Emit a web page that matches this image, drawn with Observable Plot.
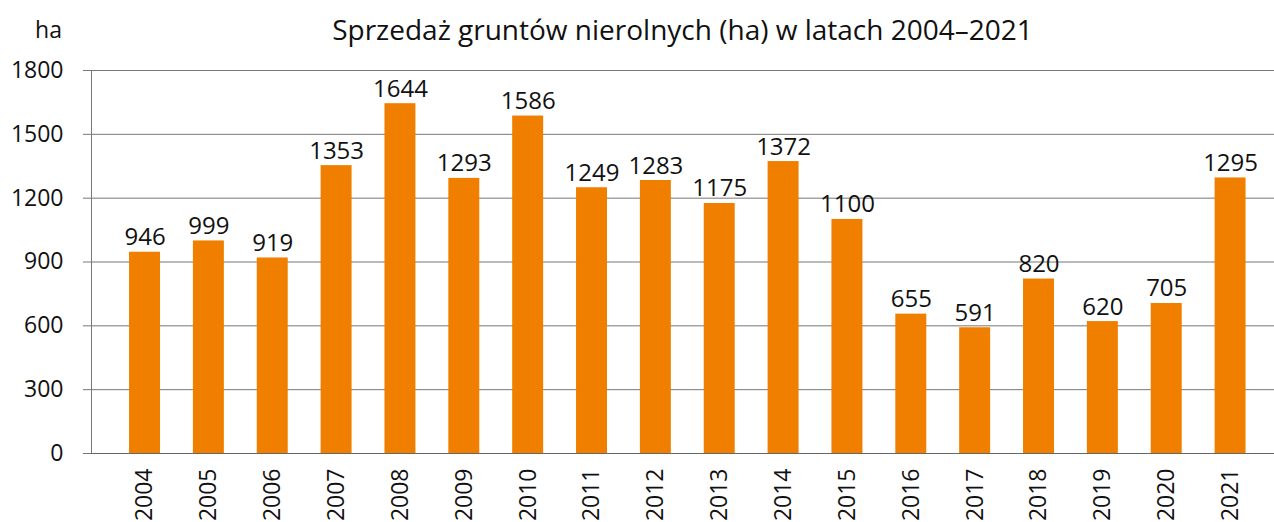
<!DOCTYPE html>
<html><head><meta charset="utf-8">
<script src="https://cdn.jsdelivr.net/npm/d3@7"></script>
<script src="https://cdn.jsdelivr.net/npm/@observablehq/plot@0.6"></script>
<style>
body{margin:0;background:#fff;font-family:"Open Sans",sans-serif;}
#wrap{position:relative;width:1274px;height:522px;overflow:hidden;}
#head{position:relative;height:40px;}
#title{position:absolute;left:91px;right:0;top:10px;text-align:center;font-size:28px;line-height:38px;color:#111;}
#unit{position:absolute;right:1212px;top:13px;font-size:23px;line-height:32px;color:#111;}
</style></head>
<body><div id="wrap"><div id="head"><div id="unit">ha</div><div id="title">Sprzedaż gruntów nierolnych (ha) w latach 2004–2021</div></div><div id="chart"></div></div>
<script>
const years = ["2004","2005","2006","2007","2008","2009","2010","2011","2012","2013","2014","2015","2016","2017","2018","2019","2020","2021"];
const values = [946,999,919,1353,1644,1293,1586,1249,1283,1175,1372,1100,655,591,820,620,705,1295];
const yTicks = [0,300,600,900,1200,1500,1800];
const data = years.map((y,i)=>({year:y,value:values[i]}));
const chart = Plot.plot({
  width:1274, height:482,
  marginTop:30, marginBottom:69, marginLeft:91, marginRight:0,
  style:{fontFamily:"Open Sans, sans-serif", fontSize:"23px", color:"#111", background:"#fff", overflow:"visible"},
  x:{domain:years, range:[112.6,1262], paddingInner:0.515, paddingOuter:0.2575, round:false, label:null},
  y:{domain:[0,1800], label:null},
  marks:[
    Plot.ruleY(yTicks,{stroke:"#777",strokeWidth:1}),
    Plot.axisY({ticks:yTicks, tickSize:8, tickPadding:20, tickFormat:d=>String(d), stroke:"#777", fontSize:23, label:null}),
    Plot.barY(data,{x:"year",y:"value",fill:"#F07F00"}),
    Plot.text(data,{x:"year",y:"value",text:d=>String(d.value),lineAnchor:"bottom",dy:-7,fontSize:24,fill:"#111"}),
    Plot.axisX({tickSize:0, tickPadding:15, tickRotate:-90, fontSize:23, label:null}),
    Plot.frame({anchor:"left", stroke:"#777"}),
    Plot.ruleY([0],{stroke:"#666"})
  ]
});
document.getElementById("chart").appendChild(chart);
</script></body></html>
